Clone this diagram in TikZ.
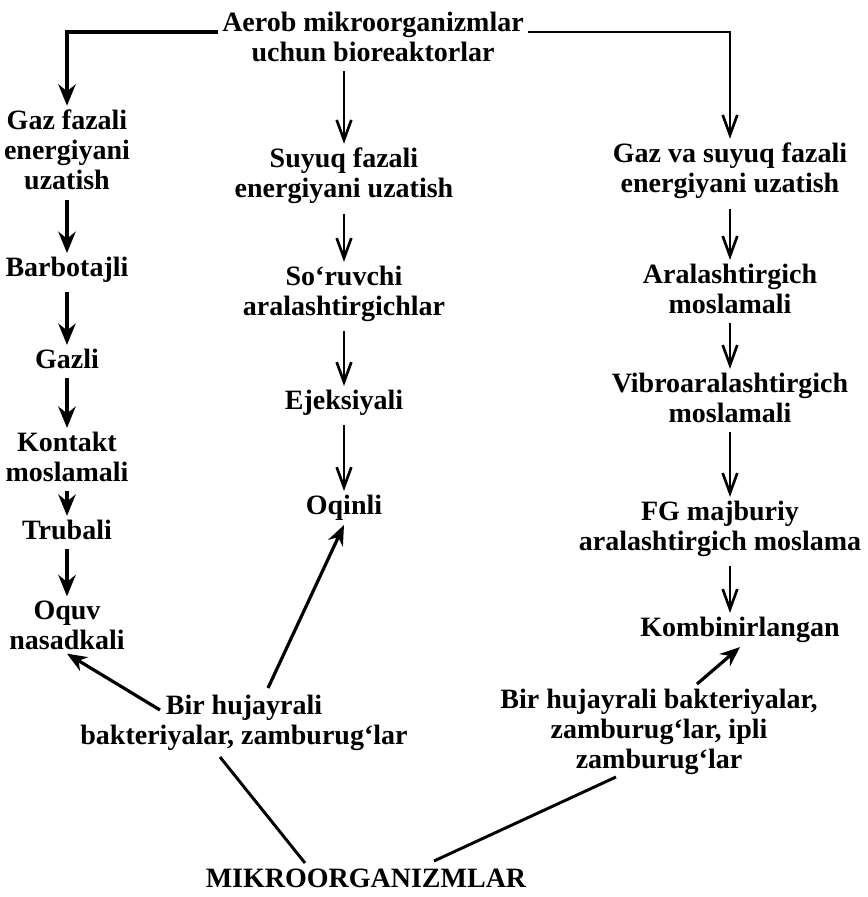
\documentclass[tikz,border=0pt]{standalone}
\usepackage{fontspec}
\setmainfont{Liberation Serif}
\usetikzlibrary{arrows.meta}

\tikzset{
	lbl/.style={font=\fontsize{21}{22.5}\selectfont\bfseries, align=center, inner sep=3pt},
	heavy/.style={->, >={Stealth[length=16pt,width=13pt]}, line width=3.4pt, shorten <=4pt},
	light/.style={->, >={Straight Barb[length=15pt,width=11pt]}, line width=2pt, shorten <=4pt},
	slant/.style={->, >={Stealth[length=15pt,width=12pt]}, line width=2.4pt},
	plain/.style={line width=2.2pt},
}

\begin{document}
\begin{tikzpicture}[x=0.75pt,y=-0.75pt]
	\useasboundingbox (0,0) rectangle (868,897);

	\node[lbl](title) at (373,37) {Aerob mikroorganizmlar\\uchun bioreaktorlar};
	\coordinate (rail) at (0,32);

	\node[lbl](gaz) at (67,150) {Gaz fazali\\energiyani\\uzatish};
	\node[lbl](barb) at (67,270) {Barbotajli};
	\node[lbl](gazli) at (67,359) {Gazli};
	\node[lbl](kontakt) at (67,457) {Kontakt\\moslamali};
	\node[lbl](trub) at (67,530) {Trubali};
	\node[lbl](oquv) at (67,625) {Oquv\\nasadkali};

	\node[lbl](suyuq) at (344,176) {Suyuq fazali\\energiyani uzatish};
	\node[lbl](soruv) at (344,294) {So‘ruvchi\\aralashtirgichlar};
	\node[lbl](ejek) at (344,403) {Ejeksiyali};
	\node[lbl](oqin) at (344,508) {Oqinli};

	\node[lbl](gazsuy) at (730,171) {Gaz va suyuq fazali\\energiyani uzatish};
	\node[lbl](aral) at (730,289) {Aralashtirgich\\moslamali};
	\node[lbl](vibro) at (730,398) {Vibroaralashtirgich\\moslamali};
	\node[lbl](fg) at (720,529) {FG majburiy\\aralashtirgich moslama};
	\node[lbl](komb) at (740,630) {Kombinirlangan};

	\node[lbl](birL) at (244,723) {Bir hujayrali\\bakteriyalar, zamburug‘lar};
	\node[lbl](birR) at (659,732) {Bir hujayrali bakteriyalar,\\zamburug‘lar, ipli\\zamburug‘lar};
	\node[lbl](mikro) at (366,878) {MIKROORGANIZMLAR};

	\coordinate (tL1) at (160,710);
	\coordinate (tL2) at (268,688);
	\coordinate (tL3) at (220,757);
	\coordinate (mL) at (305,863);
	\coordinate (tR1) at (697,684);
	\coordinate (tR2) at (616,777);
	\coordinate (mR) at (434,861);

	\draw[heavy, shorten <=0pt](title.west |- rail) -| (gaz.north);
	\draw[light, shorten <=0pt](title.east |- rail) -| (gazsuy.north);
	\draw[light](title.south -| suyuq) -- (suyuq);

	\draw[heavy](gaz) -- (barb);
	\draw[heavy](barb) -- (gazli);
	\draw[heavy](gazli) -- (kontakt);
	\draw[heavy](kontakt) -- (trub);
	\draw[heavy](trub) -- (oquv);

	\draw[light](suyuq) -- (soruv);
	\draw[light](soruv) -- (ejek);
	\draw[light](ejek) -- (oqin);

	\draw[light](gazsuy) -- (aral);
	\draw[light](aral) -- (vibro);
	\draw[light](vibro) -- (fg.north -| vibro);
	\draw[light](fg.south -| vibro) -- (komb.north -| vibro);

	\draw[slant](tL1) -- (oquv.south);
	\draw[slant](tL2) -- (oqin.south);
	\draw[slant](tR1) -- (komb.south);
	\draw[plain](tL3) -- (mL);
	\draw[plain](tR2) -- (mR);
\end{tikzpicture}
\end{document}
